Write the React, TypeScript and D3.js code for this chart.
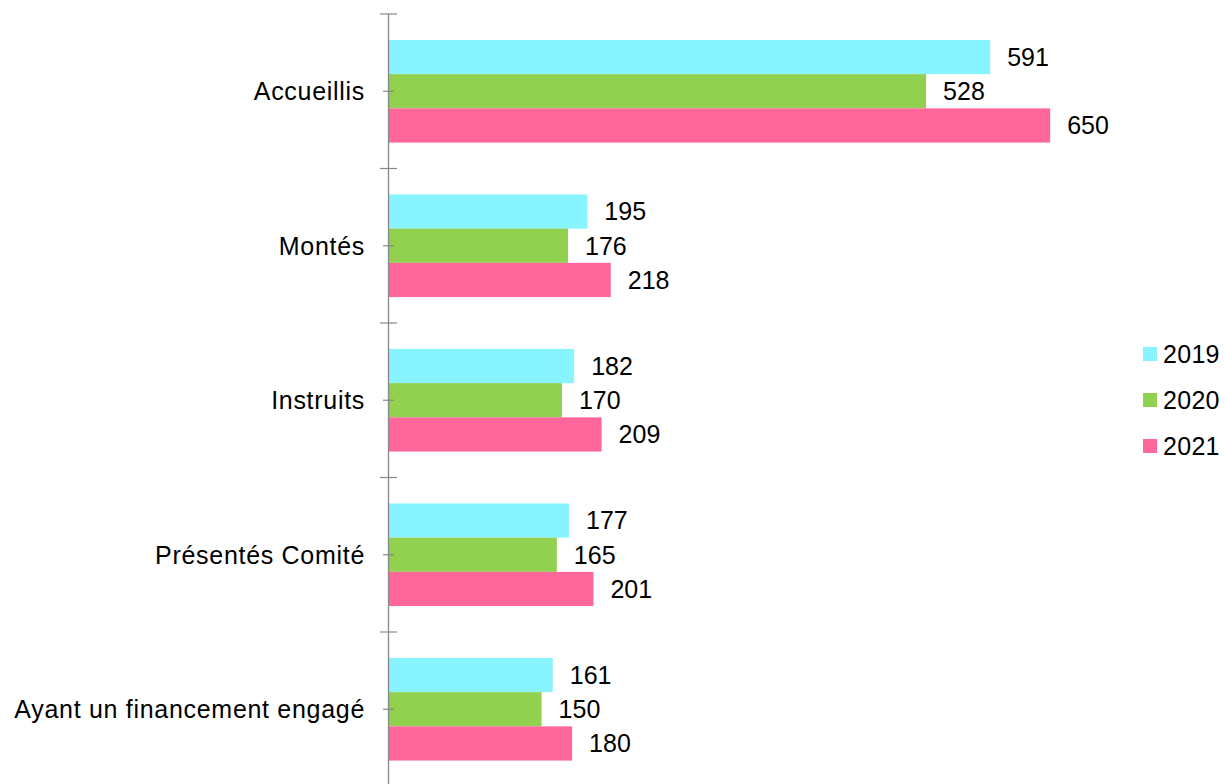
import React from "react";
import * as d3 from "d3";

const categories = ["Accueillis", "Montés", "Instruits", "Présentés Comité", "Ayant un financement engagé"];
const years = ["2019", "2020", "2021"];
const values2019 = [591, 195, 182, 177, 161];
const values2020 = [528, 176, 170, 165, 150];
const values2021 = [650, 218, 209, 201, 180];
const colors = ["#88F4FF", "#92D050", "#FF6699"];

export default function App() {
  const W = 1225, H = 784;
  const axisX = 388.5;
  const x = d3.scaleLinear().domain([0, 700]).range([389, 389 + 700 * 1.0172]);
  const y = d3.scaleBand<string>().domain(categories).range([14, 786.5]).padding(0);
  const yi = d3.scaleBand<string>().domain(years).range([0, y.bandwidth()]).paddingInner(0).paddingOuter(0.758);
  const series = [values2019, values2020, values2021];
  const font = "'Liberation Sans', Arial, sans-serif";
  const boundaries = categories.map((c) => y(c) as number).concat([(y(categories[categories.length - 1]) as number) + y.bandwidth()]);
  return (
    <svg width={W} height={H} style={{ position: "absolute", left: 0, top: 0, background: "#fff" }} fontFamily={font}>
      {categories.map((c, ci) => (
        <g key={c}>
          {years.map((yr, si) => {
            const v = series[si][ci];
            const by = (y(c) as number) + (yi(yr) as number);
            return (
              <g key={yr}>
                <rect x={x(0)} y={by} width={x(v) - x(0)} height={yi.bandwidth()} fill={colors[si]} />
                <text x={x(v) + 17} y={by + yi.bandwidth() / 2} dy="0.35em" fontSize={25} fill="#000">{v}</text>
              </g>
            );
          })}
          <text x={365} y={(y(c) as number) + y.bandwidth() / 2} dy="0.35em" fontSize={25} letterSpacing={0.7} textAnchor="end" fill="#000">{c}</text>
        </g>
      ))}
      <line x1={axisX} x2={axisX} y1={14} y2={H} stroke="#888" strokeWidth={1.3} />
      {boundaries.map((b, i) => (
        <line key={"b" + i} x1={380} x2={397} y1={b} y2={b} stroke="#888" strokeWidth={1.2} />
      ))}
      {categories.map((c) => (
        <line key={"m" + c} x1={383} x2={394} y1={(y(c) as number) + y.bandwidth() / 2} y2={(y(c) as number) + y.bandwidth() / 2} stroke="#888" strokeWidth={1.2} />
      ))}
      {years.map((yr, si) => (
        <g key={"l" + yr} transform={`translate(1143, ${354 + si * 46})`}>
          <rect x={0} y={-7} width={14} height={14} fill={colors[si]} />
          <text x={20} y={0} dy="0.35em" fontSize={25} letterSpacing={0.3} fill="#000">{yr}</text>
        </g>
      ))}
    </svg>
  );
}
